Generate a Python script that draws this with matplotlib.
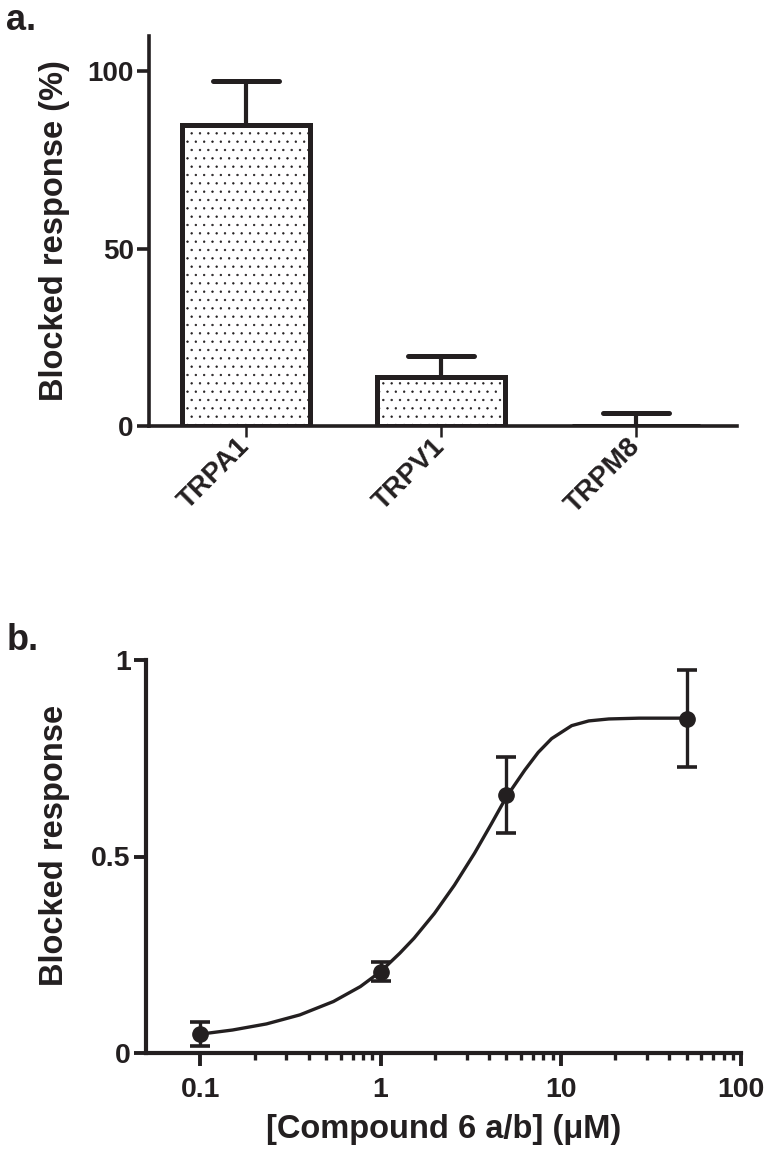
import matplotlib
matplotlib.use("Agg")
import matplotlib.pyplot as plt
import numpy as np
from matplotlib.ticker import FixedLocator, NullFormatter

plt.rcParams['font.family'] = ['Liberation Sans', 'DejaVu Sans']
plt.rcParams['font.weight'] = 'bold'
plt.rcParams['axes.labelweight'] = 'bold'
plt.rcParams['hatch.linewidth'] = 0.45

INK = '#231f20'

# panel a: blocked response per channel (%)
channels = ['TRPA1', 'TRPV1', 'TRPM8']
blocked_pct = [85.0, 13.8, 0.0]
blocked_err = [12.4, 6.0, 3.6]

# panel b: dose response
conc = [0.1, 1, 5, 50]
resp = [0.048, 0.207, 0.656, 0.851]
resp_err = [0.031, 0.025, 0.097, 0.123]

# fitted curve
curve_x = [0.1, 0.151, 0.233, 0.357, 0.548, 0.773, 1.0, 1.28, 1.535, 1.99,
           2.57, 3.32, 4.12, 5.0, 6.32, 7.5, 8.9, 11.5, 14.3, 18.5, 27.2, 50]
curve_y = [0.048, 0.0585, 0.074, 0.097, 0.131, 0.169, 0.207, 0.254, 0.292, 0.355,
           0.427, 0.508, 0.583, 0.652, 0.720, 0.765, 0.800, 0.833, 0.845, 0.850,
           0.852, 0.852]

fig = plt.figure(figsize=(7.73, 11.63), dpi=100)

# ---- panel a ----
ax1 = fig.add_axes([149 / 773, 1 - 425.7 / 1163, 588 / 773, 389.7 / 1163])
pos = np.arange(len(channels))
ax1.bar(pos, blocked_pct, width=0.66, facecolor='white', edgecolor=INK,
        linewidth=3.6, hatch='..', zorder=2)
tops = np.array(blocked_pct) + np.array(blocked_err)
ax1.vlines(pos, blocked_pct, tops, color=INK, linewidth=3.0, zorder=1)
ax1.hlines(tops, pos - 0.17, pos + 0.17, color=INK, linewidth=3.6,
           capstyle='round', zorder=3)

ax1.set_xlim(-0.497, 2.518)
ax1.set_ylim(0, 110)
ax1.set_yticks([0, 50, 100])
ax1.set_xticks(pos)
ax1.set_xticklabels(channels, rotation=45, ha='right', va='center',
                    rotation_mode='anchor', fontsize=20)
ax1.tick_params(axis='y', direction='out', length=9, width=2.6, labelsize=20,
                pad=2, colors=INK)
ax1.tick_params(axis='x', direction='out', length=8, width=1.8, pad=4, colors=INK)
for s in ['top', 'right']:
    ax1.spines[s].set_visible(False)
for s in ['left', 'bottom']:
    ax1.spines[s].set_linewidth(2.6)
    ax1.spines[s].set_color(INK)
ax1.set_ylabel('Blocked response (%)', fontsize=23.5, color=INK)
ax1.yaxis.set_label_coords(-0.135, 0.5)

# ---- panel b ----
ax2 = fig.add_axes([146 / 773, 1 - 1053 / 1163, 595 / 773, 393 / 1163])
ax2.set_xscale('log')
ax2.plot(curve_x, curve_y, color=INK, linewidth=2.4, zorder=2)
ax2.errorbar(conc, resp, yerr=resp_err, fmt='o', color=INK, markersize=11,
             elinewidth=2.4, capsize=7, capthick=2.6, zorder=3)

ax2.set_xlim(0.05, 100)
ax2.set_ylim(0, 1)
ax2.set_yticks([0, 0.5, 1])
ax2.set_yticklabels(['0', '0.5', '1'])
ax2.xaxis.set_major_locator(FixedLocator([0.1, 1, 10, 100]))
ax2.set_xticklabels(['0.1', '1', '10', '100'])
minor = [m * 10.0 ** e for e in (-1, 0, 1) for m in range(2, 10)]
ax2.xaxis.set_minor_locator(FixedLocator(minor))
ax2.xaxis.set_minor_formatter(NullFormatter())
ax2.tick_params(axis='both', which='major', direction='out', length=9, width=2.8,
                labelsize=20.5, colors=INK)
ax2.tick_params(axis='y', which='major', pad=2)
ax2.tick_params(axis='x', which='major', pad=8)
ax2.tick_params(axis='x', which='minor', direction='out', length=5, width=2.4,
                colors=INK)
for s in ['top', 'right']:
    ax2.spines[s].set_visible(False)
for s in ['left', 'bottom']:
    ax2.spines[s].set_linewidth(3.0)
    ax2.spines[s].set_color(INK)
ax2.set_ylabel('Blocked response', fontsize=23.5, color=INK)
ax2.yaxis.set_label_coords(-0.128, 0.527)
ax2.set_xlabel('[Compound 6 a/b] (\u03bcM)', fontsize=23.5, color=INK, labelpad=8)

fig.text(0.008, 0.997, 'a.', fontsize=26, va='top', ha='left', color=INK)
fig.text(0.008, 0.464, 'b.', fontsize=26, va='top', ha='left', color=INK)

fig.savefig('out.png', dpi=100)
